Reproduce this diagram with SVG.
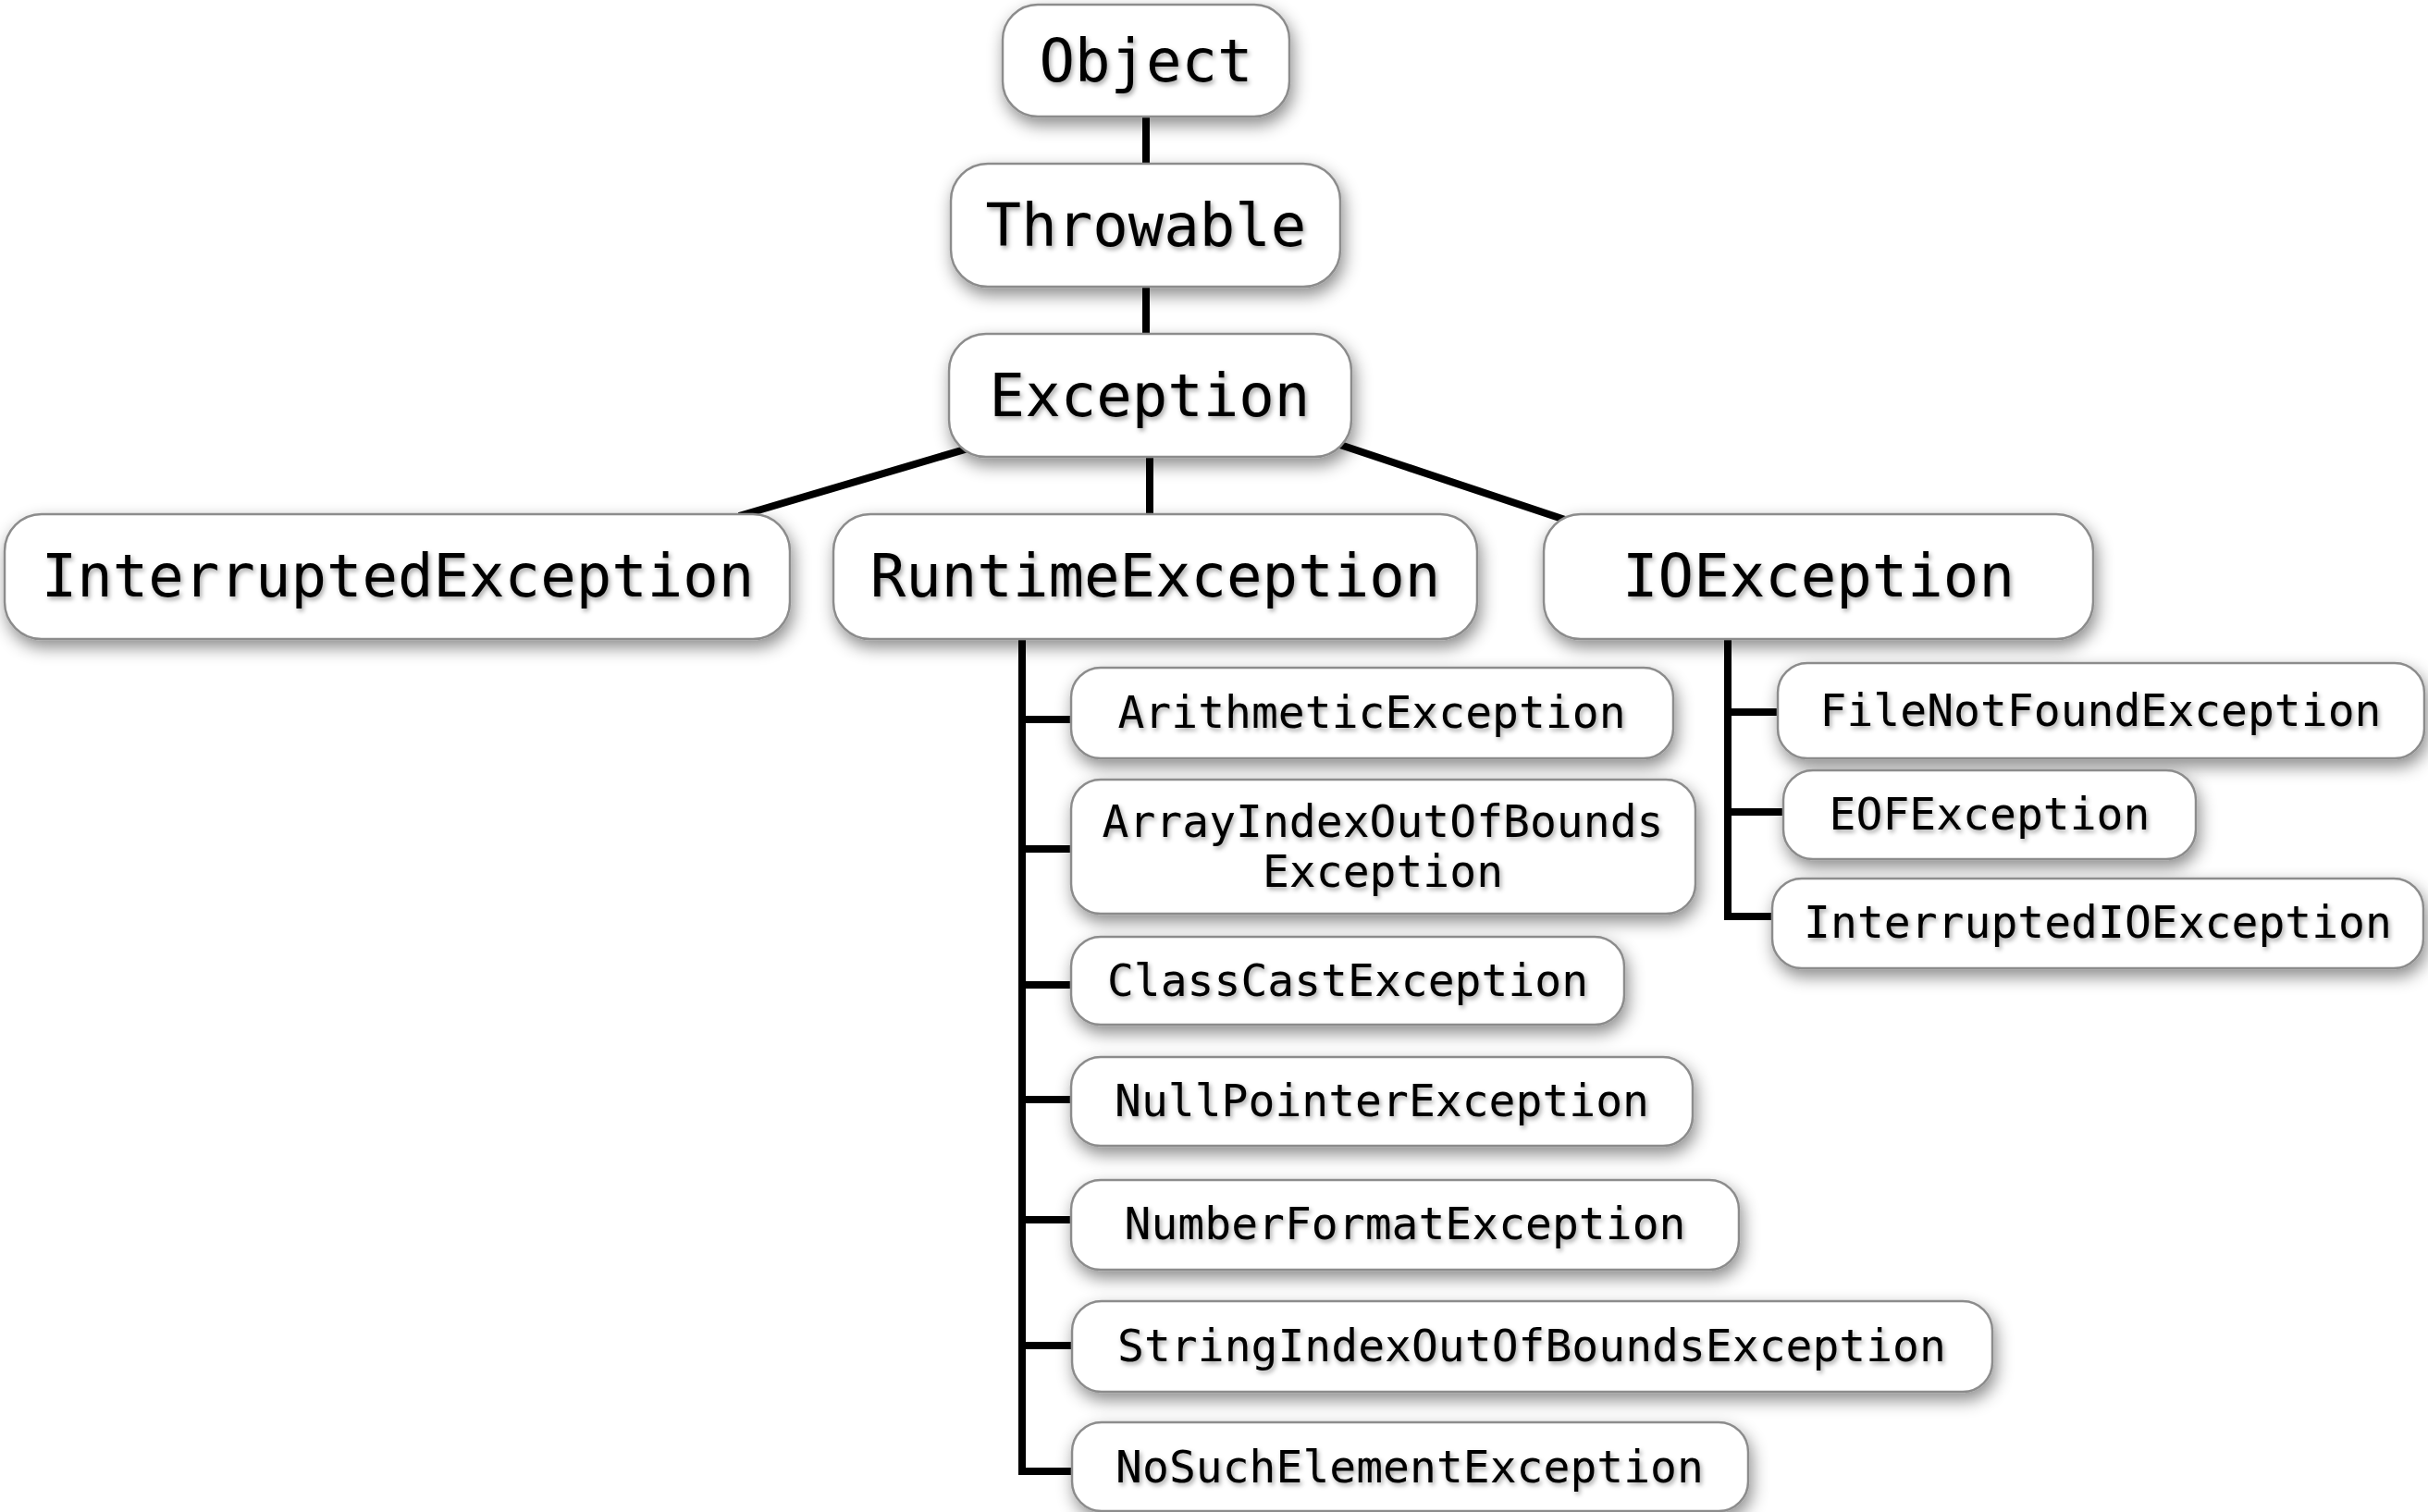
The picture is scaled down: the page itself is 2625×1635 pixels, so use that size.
<svg xmlns="http://www.w3.org/2000/svg" width="2625" height="1635" viewBox="0 0 2625 1635">
  <defs>
    <filter id="boxShadow" x="-10%" y="-30%" width="120%" height="170%">
      <feDropShadow dx="3" dy="8" stdDeviation="9" flood-color="#000" flood-opacity="0.45"/>
    </filter>
    <filter id="textShadow" x="-5%" y="-20%" width="110%" height="150%">
      <feDropShadow dx="2" dy="3" stdDeviation="2.5" flood-color="#000" flood-opacity="0.35"/>
    </filter>
  </defs>
  <style>
    .box { fill: #fff; stroke: #8c8c8c; stroke-width: 2.5; filter: url(#boxShadow); }
    .big { font-family: "DejaVu Sans Mono", "Liberation Mono", monospace; font-size: 64px; fill: #000; text-anchor: middle; filter: url(#textShadow); }
    .small { font-family: "DejaVu Sans Mono", "Liberation Mono", monospace; font-size: 48px; fill: #000; text-anchor: middle; filter: url(#textShadow); }
    .link { fill: none; stroke: #000; stroke-width: 8; stroke-linejoin: miter; stroke-linecap: butt; }
  </style>
  <rect width="2625" height="1635" fill="#fff"/>

  <!-- inheritance lines -->
  <g id="connectors">
    <line class="link" x1="1239" y1="126" x2="1239" y2="177"/>
    <line class="link" x1="1239" y1="310" x2="1239" y2="361"/>
    <line class="link" x1="1243" y1="494" x2="1243" y2="556"/>
    <line class="link" x1="1050" y1="484" x2="799" y2="558"/>
    <line class="link" x1="1440" y1="478" x2="1692" y2="562"/>
    <!-- RuntimeException subclasses -->
    <path class="link" d="M1105 690 V1591 H1159"/>
    <line class="link" x1="1105" y1="778" x2="1159" y2="778"/>
    <line class="link" x1="1105" y1="918" x2="1159" y2="918"/>
    <line class="link" x1="1105" y1="1065" x2="1159" y2="1065"/>
    <line class="link" x1="1105" y1="1189" x2="1159" y2="1189"/>
    <line class="link" x1="1105" y1="1319" x2="1159" y2="1319"/>
    <line class="link" x1="1105" y1="1455" x2="1159" y2="1455"/>
    <!-- IOException subclasses -->
    <path class="link" d="M1868 690 V991 H1917"/>
    <line class="link" x1="1868" y1="770" x2="1922" y2="770"/>
    <line class="link" x1="1868" y1="878" x2="1928" y2="878"/>
  </g>

  <g id="object">
    <rect class="box" x="1084" y="5" width="310" height="121" rx="38"/>
    <text class="big" x="1239" y="88">Object</text>
  </g>
  <g id="throwable">
    <rect class="box" x="1028" y="177" width="421" height="133" rx="40"/>
    <text class="big" x="1239" y="266">Throwable</text>
  </g>
  <g id="exception">
    <rect class="box" x="1026" y="361" width="435" height="133" rx="40"/>
    <text class="big" x="1243" y="450">Exception</text>
  </g>
  <g id="interrupted-exception">
    <rect class="box" x="5" y="556" width="849" height="135" rx="40"/>
    <text class="big" x="430" y="645">InterruptedException</text>
  </g>
  <g id="runtime-exception">
    <rect class="box" x="901" y="556" width="696" height="135" rx="40"/>
    <text class="big" x="1249" y="645">RuntimeException</text>
  </g>
  <g id="io-exception">
    <rect class="box" x="1669" y="556" width="594" height="135" rx="40"/>
    <text class="big" x="1966" y="645">IOException</text>
  </g>

  <g id="arithmetic-exception">
    <rect class="box" x="1158" y="722" width="651" height="98" rx="32"/>
    <text class="small" x="1483" y="787">ArithmeticException</text>
  </g>
  <g id="array-index-exception">
    <rect class="box" x="1158" y="843" width="675" height="145" rx="32"/>
    <text class="small" x="1495" y="905">ArrayIndexOutOfBounds</text>
    <text class="small" x="1495" y="959">Exception</text>
  </g>
  <g id="class-cast-exception">
    <rect class="box" x="1158" y="1013" width="598" height="95" rx="32"/>
    <text class="small" x="1457" y="1077">ClassCastException</text>
  </g>
  <g id="null-pointer-exception">
    <rect class="box" x="1158" y="1143" width="672" height="96" rx="32"/>
    <text class="small" x="1494" y="1207">NullPointerException</text>
  </g>
  <g id="number-format-exception">
    <rect class="box" x="1158" y="1276" width="722" height="97" rx="32"/>
    <text class="small" x="1519" y="1340">NumberFormatException</text>
  </g>
  <g id="string-index-exception">
    <rect class="box" x="1159" y="1407" width="995" height="98" rx="32"/>
    <text class="small" x="1656" y="1472">StringIndexOutOfBoundsException</text>
  </g>
  <g id="no-such-element-exception">
    <rect class="box" x="1159" y="1538" width="731" height="96" rx="32"/>
    <text class="small" x="1524" y="1603">NoSuchElementException</text>
  </g>

  <g id="file-not-found-exception">
    <rect class="box" x="1922" y="717" width="699" height="103" rx="32"/>
    <text class="small" x="2271" y="785">FileNotFoundException</text>
  </g>
  <g id="eof-exception">
    <rect class="box" x="1928" y="833" width="446" height="96" rx="32"/>
    <text class="small" x="2151" y="897">EOFException</text>
  </g>
  <g id="interrupted-io-exception">
    <rect class="box" x="1916" y="950" width="704" height="97" rx="32"/>
    <text class="small" x="2268" y="1014">InterruptedIOException</text>
  </g>
</svg>
